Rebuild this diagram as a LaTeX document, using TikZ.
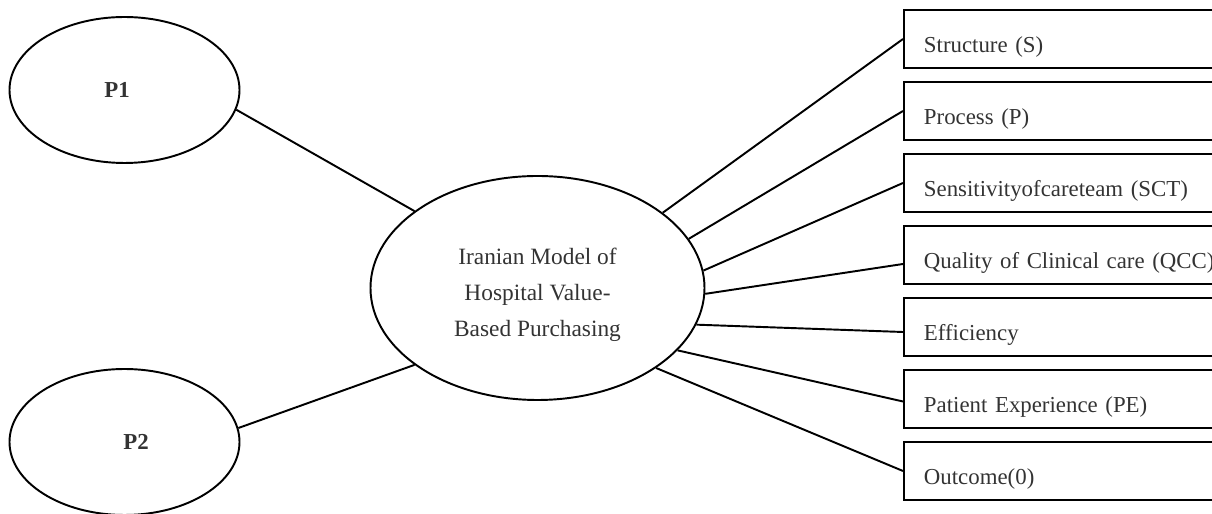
\documentclass[tikz,border=0pt]{standalone}
\usepackage{fontspec}
\setmainfont{Liberation Serif}
\usetikzlibrary{shapes.geometric,positioning}

\tikzset{
  oval/.style={draw, ellipse, line width=1.1pt, inner sep=0pt, text=black!80},
  ptext/.style={font=\bfseries\fontsize{13}{16}\selectfont, text=black!80},
  critbox/.style={draw, rectangle, line width=1.1pt, anchor=west,
    minimum width=7cm, minimum height=1.16cm, inner xsep=0.4cm,
    text height=15pt, text depth=0pt,
    text width=6.2cm, align=left, font=\fontsize{13}{16}\selectfont, text=black!80},
  link/.style={line width=1.1pt}
}

\begin{document}
\begin{tikzpicture}
\useasboundingbox (0,0) rectangle (24.24,10.28);
\clip (0,0) rectangle (24.24,10.28);

% the ellipses
\node[oval, minimum width=6.68cm, minimum height=4.48cm, align=center,
  font=\fontsize{13.3}{20.4}\selectfont] (imvbp) at (10.75,4.52)
  {\rule{0pt}{17pt}Iranian Model of\\ Hospital Value-\\ Based Purchasing};
\node[oval, minimum width=4.6cm, minimum height=2.92cm,
  label={[ptext, xshift=-0.15cm]center:P1}] (p1) at (2.49,8.48) {};
\node[oval, minimum width=4.6cm, minimum height=2.92cm,
  label={[ptext, xshift=0.23cm]center:P2}] (p2) at (2.49,1.44) {};

% the boxes
\foreach \txt [count=\i] in {Structure (S), Process (P), Sensitivityofcareteam (SCT),
    Quality of Clinical care (QCC), Efficiency, Patient Experience (PE), Outcome(0)}
  \node[critbox] (crit\i) at (18.06,{10.94-1.44*\i}) {\txt};

% the lines
\draw[link] (p1.-10) -- (imvbp.148.6);
\draw[link] (p2.7) -- (imvbp.212.4);
\foreach \i/\a/\dy in {1/31.4/0, 2/18/0, 3/6.5/0, 4/-2.4/-0.18, 5/-13.7/-0.1, 6/-24/-0.05, 7/-34.8/0}
  \draw[link] (imvbp.\a) -- ([yshift=\dy cm]crit\i.west);

\end{tikzpicture}
\end{document}
